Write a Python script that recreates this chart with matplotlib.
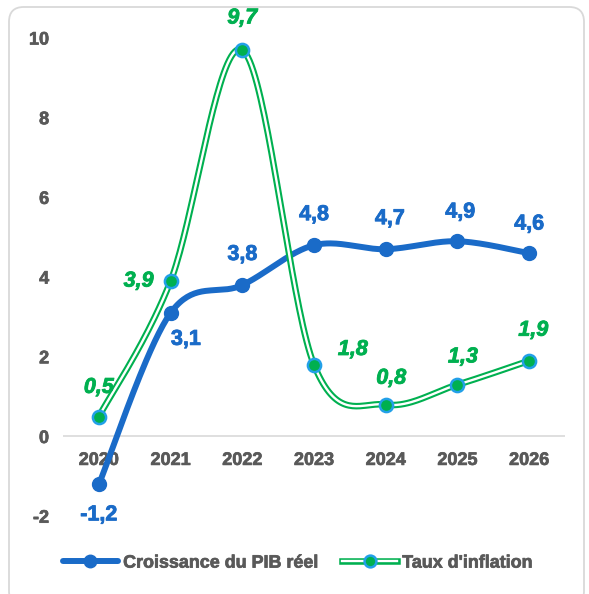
import numpy as np
import matplotlib.pyplot as plt
import matplotlib.patheffects as pe
from matplotlib.lines import Line2D
from matplotlib.patches import FancyBboxPatch

plt.rcParams['font.family'] = ['Liberation Sans', 'DejaVu Sans']

years = ["2020", "2021", "2022", "2023", "2024", "2025", "2026"]
pib = [-1.2, 3.1, 3.8, 4.8, 4.7, 4.9, 4.6]
inflation = [0.5, 3.9, 9.7, 1.8, 0.8, 1.3, 1.9]

# label offsets in points (dx, dy) for each data label
pib_offsets = [(0, -22), (11, -19), (0, 22), (0, 22), (3, 22), (2, 21), (0, 21)]
infl_offsets = [(0, 21), (-23, 0), (0, 23), (28, 11), (4, 19), (4, 20), (3, 22)]

BLUE = "#1A6BC8"
GREEN = "#00B050"
LIGHT_BLUE = "#22A0E8"
GREY = "#595959"


def heavier(color, w=0.6):
    return [pe.withStroke(linewidth=w, foreground=color)]


def smooth(xs, ys, n=40):
    """Bezier smoothing through every point, like spreadsheet smoothed lines."""
    pts = np.column_stack([xs, ys]).astype(float)
    padded = np.vstack([pts[0], pts, pts[-1]])
    out = []
    t = np.linspace(0, 1, n)[:, None]
    for i in range(len(pts) - 1):
        p0, p1, p2, p3 = padded[i], padded[i + 1], padded[i + 2], padded[i + 3]
        c1 = p1 + (p2 - p0) / 6
        c2 = p2 - (p3 - p1) / 6
        seg = ((1 - t) ** 3) * p1 + 3 * ((1 - t) ** 2) * t * c1 + 3 * (1 - t) * t ** 2 * c2 + t ** 3 * p2
        out.append(seg if i == 0 else seg[1:])
    out = np.vstack(out)
    return out[:, 0], out[:, 1]


fig = plt.figure(figsize=(5.89, 5.94), dpi=100)
ax = fig.add_axes([63 / 589, 0.131, 502 / 589, 0.805])

x = np.arange(len(years))

# rounded chart frame
frame = FancyBboxPatch((9 / 589, -0.02), 575 / 589, 1 - 7 / 594 + 0.02,
                       boxstyle="round,pad=0,rounding_size=0.025",
                       transform=fig.transFigure, fill=False,
                       edgecolor="#D9D9D9", linewidth=1.3, clip_on=False)
fig.patches.append(frame)

ax.axhline(0, color="#D9D9D9", linewidth=1.2, zorder=1)

# GDP growth
sx, sy = smooth(x, pib)
ax.plot(sx, sy, color=BLUE, linewidth=4.3, solid_capstyle="round", zorder=3)
ax.plot(x, pib, linestyle="none", marker="o", markersize=10,
        markerfacecolor=BLUE, markeredgecolor=BLUE, zorder=4)

# inflation, drawn as a double line
sx, sy = smooth(x, inflation)
ax.plot(sx, sy, color=GREEN, linewidth=4.7, zorder=5)
ax.plot(sx, sy, color="white", linewidth=1.7, zorder=6)
ax.plot(x, inflation, linestyle="none", marker="o", markersize=9.5,
        markerfacecolor=GREEN, markeredgecolor=LIGHT_BLUE, markeredgewidth=1.8, zorder=7)

for xi, v, (dx, dy) in zip(x, pib, pib_offsets):
    ax.annotate(f"{v:.1f}".replace(".", ","), (xi, v), xytext=(dx, dy),
                textcoords="offset points", ha="center", va="center",
                fontsize=15.5, fontweight="bold", color=BLUE, zorder=8,
                path_effects=heavier(BLUE))

for xi, v, (dx, dy) in zip(x, inflation, infl_offsets):
    ax.annotate(f"{v:.1f}".replace(".", ","), (xi, v), xytext=(dx, dy),
                textcoords="offset points", ha="center", va="center",
                fontsize=15.5, fontweight="bold", fontstyle="italic", color=GREEN, zorder=8,
                path_effects=heavier(GREEN))

ax.set_xlim(-0.5, len(years) - 0.5)
ax.set_ylim(-2, 10)
ax.set_yticks(range(-2, 11, 2))
ax.set_yticklabels([str(v) for v in range(-2, 11, 2)])

for s in ax.spines.values():
    s.set_visible(False)
ax.tick_params(axis="both", length=0, labelsize=13, labelcolor=GREY)
ax.tick_params(axis="y", pad=10)
for lbl in ax.get_yticklabels():
    lbl.set_fontweight("bold")
    lbl.set_path_effects(heavier(GREY, 0.5))
ax.set_xticks([])

# year labels sit just under the zero line
for xi, yr in zip(x, years):
    ax.text(xi, -0.6, yr, ha="center", va="center",
            fontsize=13, fontweight="bold", color=GREY, zorder=2,
            path_effects=heavier(GREY, 0.5))

ax.set_facecolor("none")

h_pib = (Line2D([], [], color=BLUE, linewidth=4.3, solid_capstyle="round"),
         Line2D([], [], linestyle="none", marker="o", markersize=9,
                markerfacecolor=BLUE, markeredgecolor=BLUE))
h_inf = (Line2D([], [], color=GREEN, linewidth=4.7),
         Line2D([], [], color="white", linewidth=1.7),
         Line2D([], [], linestyle="none", marker="o", markersize=8.5,
                markerfacecolor=GREEN, markeredgecolor=LIGHT_BLUE, markeredgewidth=1.8))
leg = fig.legend([h_pib, h_inf], ["Croissance du PIB réel", "Taux d'inflation"],
                 loc="center", bbox_to_anchor=(0.506, 0.052), ncol=2, frameon=False,
                 handlelength=3.05, handletextpad=0.3, columnspacing=1.3,
                 prop={"size": 12.9, "weight": "bold"})
for t in leg.get_texts():
    t.set_color(GREY)
    t.set_path_effects(heavier(GREY, 0.5))

fig.savefig("out.png", dpi=100)
